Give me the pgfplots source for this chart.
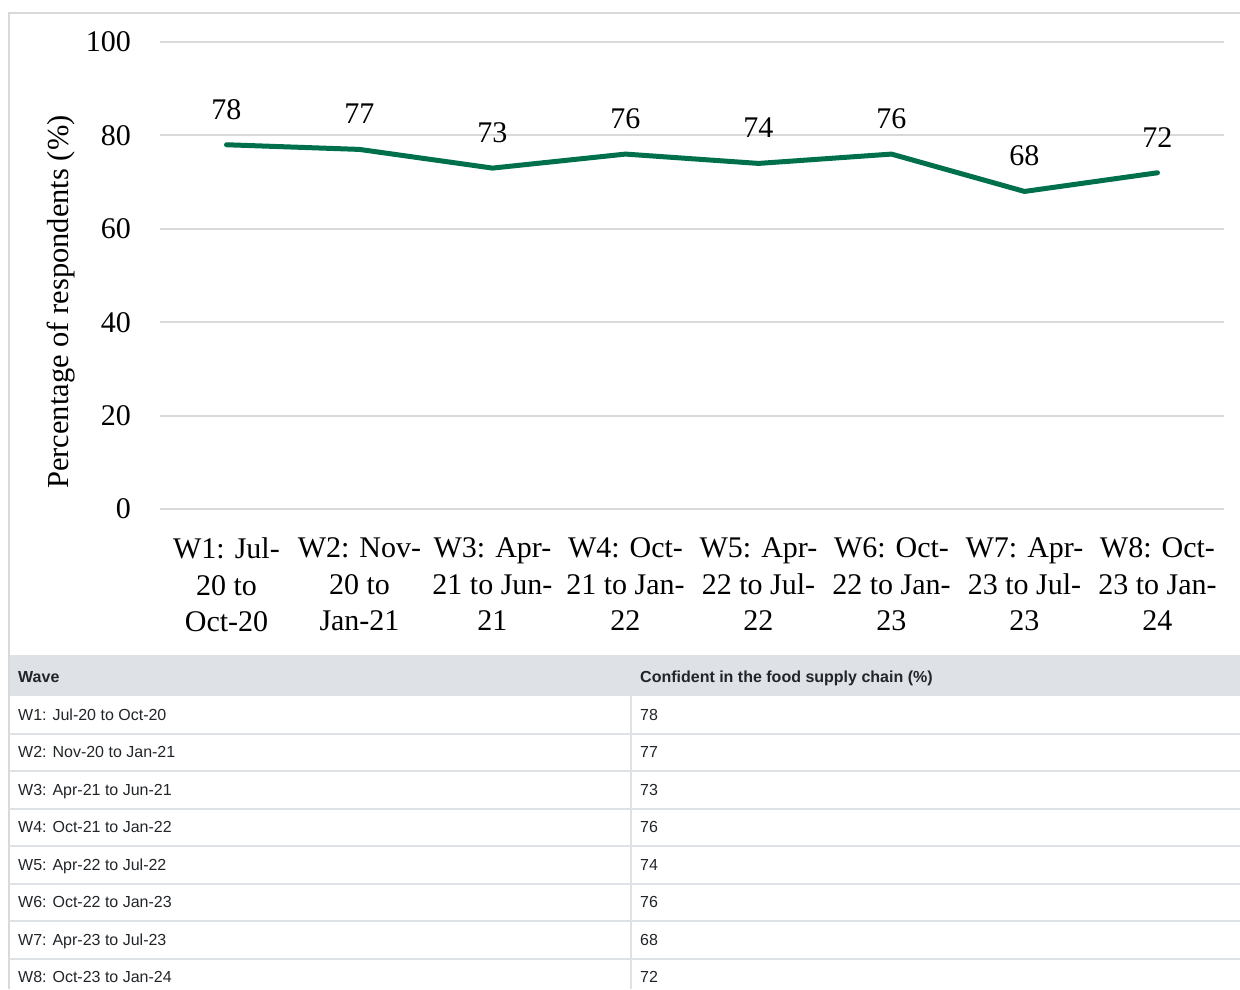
\documentclass[border=0pt]{standalone}
\usepackage{fontspec}
\setmainfont{Liberation Serif}
\newfontfamily\tablefont{Liberation Sans}
\usepackage{pgfplots}
\pgfplotsset{compat=1.18}
\definecolor{linegreen}{RGB}{0,112,76}
\definecolor{gridgray}{RGB}{217,217,217}
\definecolor{headgray}{RGB}{222,226,230}
\definecolor{tabtext}{RGB}{33,37,41}
\begin{document}
\begin{tikzpicture}
\useasboundingbox (0,0) rectangle (1240pt,-989pt);
% outer box
\fill[headgray] (9pt,-655pt) rectangle (1240pt,-696pt);
\draw[gridgray, line width=2pt] (8.5pt,-989pt) -- (8.5pt,-12.5pt) -- (1240pt,-12.5pt);
% table rules
\foreach \yy in {733.5,771,808.5,846,883.5,921,958.5}{
  \draw[headgray, line width=2pt] (9pt,-\yy pt) -- (1240pt,-\yy pt);
}
\draw[headgray, line width=2pt] (631pt,-696pt) -- (631pt,-989pt);
% table text
\begin{scope}[every node/.style={anchor=base west, inner sep=0pt, text=tabtext, font=\tablefont\fontsize{16}{19}\selectfont}]
\node at (18pt,-682.5pt) {\bfseries Wave};
\node at (640pt,-682.5pt) {\bfseries Confident in the food supply chain (\%)};
\node at (18pt,-720pt) {W1: Jul-20 to Oct-20};   \node at (640pt,-720pt) {78};
\node at (18pt,-757.5pt) {W2: Nov-20 to Jan-21}; \node at (640pt,-757.5pt) {77};
\node at (18pt,-795pt) {W3: Apr-21 to Jun-21};   \node at (640pt,-795pt) {73};
\node at (18pt,-832.5pt) {W4: Oct-21 to Jan-22}; \node at (640pt,-832.5pt) {76};
\node at (18pt,-870pt) {W5: Apr-22 to Jul-22};   \node at (640pt,-870pt) {74};
\node at (18pt,-907.5pt) {W6: Oct-22 to Jan-23}; \node at (640pt,-907.5pt) {76};
\node at (18pt,-945pt) {W7: Apr-23 to Jul-23};   \node at (640pt,-945pt) {68};
\node at (18pt,-982.5pt) {W8: Oct-23 to Jan-24}; \node at (640pt,-982.5pt) {72};
\end{scope}
\begin{axis}[
  at={(160pt,-509pt)}, anchor=south west,
  scale only axis, width=1064pt, height=467pt,
  xmin=-0.5, xmax=7.5, ymin=0, ymax=100,
  ytick={0,20,40,60,80,100},
  xtick={0,1,2,3,4,5,6,7},
  xticklabels={{W1: Jul-\\20 to\\Oct-20},{W2: Nov-\\20 to\\Jan-21},{W3: Apr-\\21 to Jun-\\21},{W4: Oct-\\21 to Jan-\\22},{W5: Apr-\\22 to Jul-\\22},{W6: Oct-\\22 to Jan-\\23},{W7: Apr-\\23 to Jul-\\23},{W8: Oct-\\23 to Jan-\\24}},
  axis line style={draw=none},
  major tick length=0pt,
  ymajorgrids, grid style={gridgray, line width=2pt},
  /pgf/number format/assume math mode=true,
  ticklabel style={font=\fontsize{30}{36.5}\selectfont, inner sep=0pt},
  xticklabel style={align=center, anchor=north, yshift=-28.5pt},
  yticklabel style={anchor=east, xshift=-29pt},
  ylabel={Percentage of respondents (\%)},
  ylabel style={font=\fontsize{30.5}{36}\selectfont, at={(axis description cs:-0.093,0.443)}, anchor=center, inner sep=0pt},
  clip=false,
  nodes near coords,
  nodes near coords style={font=\fontsize{30}{36}\selectfont, anchor=center, yshift=35.5pt, inner sep=0pt, text=black},
]
\addplot[linegreen, line width=5pt, line cap=round, line join=round, mark=none] coordinates {
(0,78) (1,77) (2,73) (3,76) (4,74) (5,76) (6,68) (7,72)
};
\end{axis}
\end{tikzpicture}
\end{document}
